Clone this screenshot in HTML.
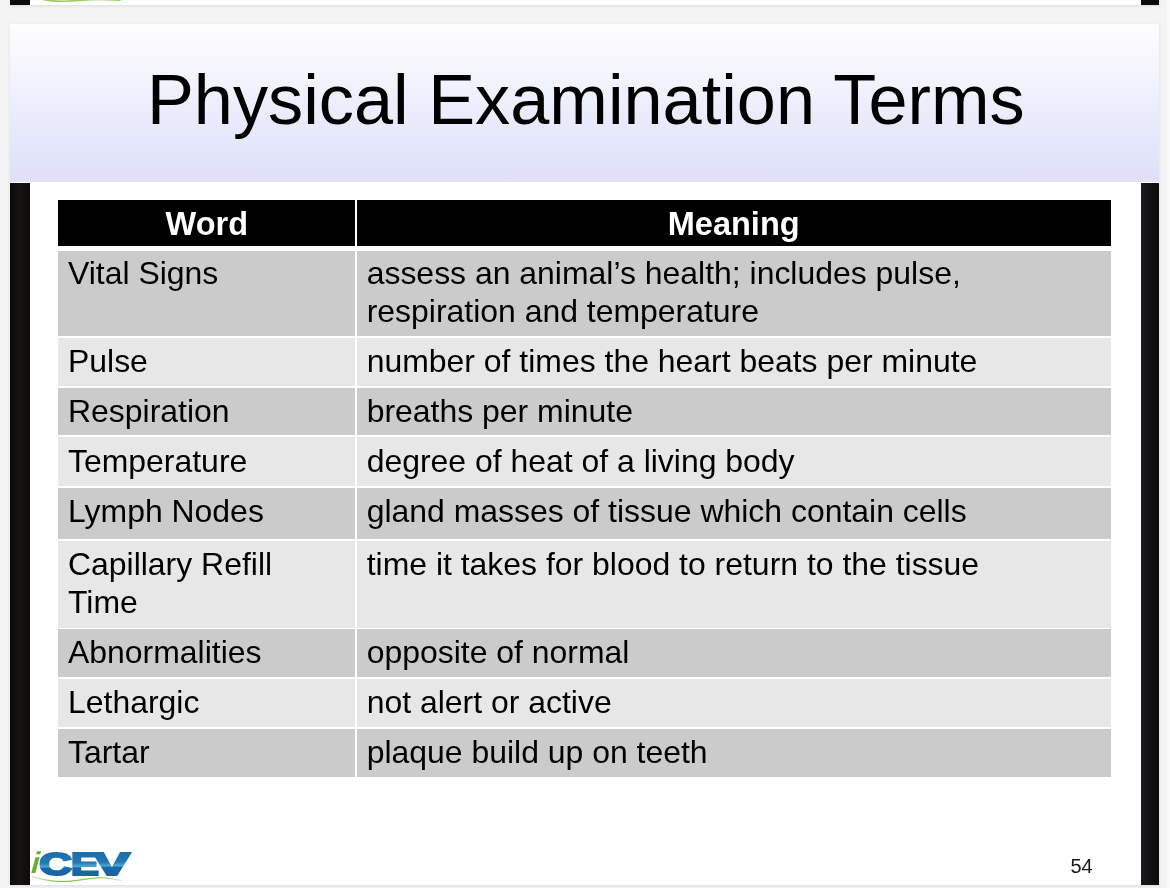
<!DOCTYPE html>
<html lang="en">
<head>
<meta charset="utf-8">
<title>Physical Examination Terms</title>
<style>
  html, body { margin: 0; padding: 0; }
  body {
    width: 1170px; height: 888px; overflow: hidden; position: relative;
    background: #f4f4f4;
    font-family: "Liberation Sans", sans-serif;
    color: #000;
  }
  .track { position: absolute; left: 1166.7px; top: 0; width: 4px; height: 888px; background: #fafafa; }
  .prev {
    position: absolute; left: 10px; top: -20px; width: 1149px; height: 25px;
    background: #fff; box-shadow: 0 1px 3px rgba(0,0,0,0.10);
  }
  .prev .bl { position: absolute; left: 0; top: 0; width: 19.6px; height: 24.6px; background: #0d0b09; }
  .prev .br { position: absolute; right: 0; top: 0; width: 17.7px; height: 24.6px; background: #0b0b0d; }
  .sw { position: absolute; left: 40px; top: 0; width: 90px; height: 5px; filter: blur(0.5px); }
  .slide {
    position: absolute; left: 10px; top: 24px; width: 1149px; height: 860.6px;
    background: #fff; box-shadow: 0 1px 3px rgba(0,0,0,0.10);
  }
  .bar-l { position: absolute; left: 10px; top: 183px; width: 19.8px; height: 701.6px; background: linear-gradient(to right, #0b0a09 0%, #171412 45%, #0e0c0b 100%); }
  .bar-r { position: absolute; left: 1141.4px; top: 183px; width: 17.5px; height: 701.6px; background: linear-gradient(to right, #1a1a1e 0%, #121215 50%, #0a0a0c 100%); }
  .band {
    position: absolute; left: 10px; top: 24px; width: 1149px; height: 158px;
    background: linear-gradient(to bottom, #fdfdfe 0%, #f8f8fe 18%, #eef0fd 45%, #e6e8fb 70%, #dfe0f9 100%);
  }
  h1 {
    position: absolute; left: 11.3px; top: 59.5px; width: 1149px; margin: 0;
    text-align: center; font-weight: normal; font-size: 70.3px; line-height: 80px;
    white-space: nowrap;
  }
  .grid { position: absolute; left: 0; top: 0; font-size: 31.95px; line-height: 38.0px; }
  .hdr { position: absolute; left: 58.3px; top: 200px; width: 1052.5px; height: 45.9px; background: #000; color: #fff;
    font-weight: bold; font-size: 32.5px; }
  .hdr .h1c { position: absolute; left: 0; top: 0; width: 297px; height: 100%; text-align: center; }
  .hdr .h2c { position: absolute; left: 298.3px; top: 0; width: 754.2px; height: 100%; text-align: center; }
  .hdr .dv { position: absolute; left: 297px; top: 0; width: 1.3px; height: 100%; background: #fff; }
  .hdr span { position: relative; top: 4.7px; white-space: nowrap; }
  .row { position: absolute; left: 58.3px; width: 1052.5px; }
  .row .c1 { position: absolute; left: 0; top: 0; width: 296.7px; height: 100%; }
  .row .c2 { position: absolute; left: 298.7px; top: 0; width: 753.8px; height: 100%; }
  .row.o .c1, .row.o .c2 { background: #cbcbcb; }
  .row.e .c1, .row.e .c2 { background: #e7e7e7; }
  .row p { position: absolute; left: 9.7px; margin: 0; white-space: nowrap; }
  .logo { position: absolute; left: 25px; top: 842px; width: 120px; height: 46px; }
  .num { position: absolute; left: 1064.6px; top: 854.4px; width: 34px; text-align: center;
    font-size: 20px; line-height: 24px; color: #1a1a1a; }
</style>
</head>
<body>
  <div class="track"></div>
  <div class="prev"><div class="bl"></div><div class="br"></div></div>
  <svg class="sw" viewBox="0 0 90 5"><path d="M3 -0.6 C 12 1.6, 28 1.6, 42 0.2 S 66 -0.8, 80 0.2" fill="none" stroke="#9ccb63" stroke-width="1.6" stroke-linecap="round"/></svg>

  <div class="slide"></div>
  <div class="bar-l"></div>
  <div class="bar-r"></div>
  <div class="band"></div>
  <h1>Physical Examination Terms</h1>

  <div class="grid">
    <div class="hdr">
      <div class="h1c"><span>Word</span></div>
      <div class="dv"></div>
      <div class="h2c"><span>Meaning</span></div>
    </div>
    <div class="row o" style="top:251.0px;height:84.7px">
      <div class="c1"><p style="top:3.05px">Vital Signs</p></div>
      <div class="c2"><p style="top:3.05px">assess an animal’s health; includes pulse,<br>respiration and temperature</p></div>
    </div>
    <div class="row e" style="top:337.6px;height:48.2px">
      <div class="c1"><p style="top:4.45px">Pulse</p></div>
      <div class="c2"><p style="top:4.45px">number of times the heart beats per minute</p></div>
    </div>
    <div class="row o" style="top:387.7px;height:47.6px">
      <div class="c1"><p style="top:4.35px">Respiration</p></div>
      <div class="c2"><p style="top:4.35px">breaths per minute</p></div>
    </div>
    <div class="row e" style="top:437.1px;height:48.7px">
      <div class="c1"><p style="top:4.95px">Temperature</p></div>
      <div class="c2"><p style="top:4.95px">degree of heat of a living body</p></div>
    </div>
    <div class="row o" style="top:487.5px;height:51.2px">
      <div class="c1"><p style="top:4.55px">Lymph Nodes</p></div>
      <div class="c2"><p style="top:4.55px">gland masses of tissue which contain cells</p></div>
    </div>
    <div class="row e" style="top:540.8px;height:86.8px">
      <div class="c1"><p style="top:4.25px">Capillary Refill<br>Time</p></div>
      <div class="c2"><p style="top:4.25px">time it takes for blood to return to the tissue</p></div>
    </div>
    <div class="row o" style="top:629.3px;height:47.9px">
      <div class="c1"><p style="top:3.75px">Abnormalities</p></div>
      <div class="c2"><p style="top:3.75px">opposite of normal</p></div>
    </div>
    <div class="row e" style="top:678.7px;height:48.5px">
      <div class="c1"><p style="top:4.35px">Lethargic</p></div>
      <div class="c2"><p style="top:4.35px">not alert or active</p></div>
    </div>
    <div class="row o" style="top:728.9px;height:47.8px">
      <div class="c1"><p style="top:4.15px">Tartar</p></div>
      <div class="c2"><p style="top:4.15px">plaque build up on teeth</p></div>
    </div>
  </div>

  <svg class="logo" viewBox="25 842 120 46">
    <defs>
      <linearGradient id="lg" x1="0" y1="0" x2="0.04" y2="1">
        <stop offset="0.17" stop-color="#1c6ba7"/>
        <stop offset="0.48" stop-color="#2279b3"/>
        <stop offset="0.585" stop-color="#4ea9d4"/>
        <stop offset="0.625" stop-color="#186aa8"/>
        <stop offset="0.85" stop-color="#1a63a0"/>
      </linearGradient>
      <linearGradient id="sg" gradientUnits="userSpaceOnUse" x1="32" y1="0" x2="123" y2="0">
        <stop offset="0" stop-color="#86bd4c" stop-opacity="0.35"/>
        <stop offset="0.3" stop-color="#7cb83f" stop-opacity="0.95"/>
        <stop offset="0.75" stop-color="#86bd4c" stop-opacity="0.8"/>
        <stop offset="1" stop-color="#86bd4c" stop-opacity="0.15"/>
      </linearGradient>
    </defs>
    <text transform="translate(30.8 872.8) skewX(-4)" font-family="Liberation Sans, sans-serif" font-style="italic" font-weight="bold" font-size="30" fill="#6bb02c">i</text>
    <text y="874.9" font-family="Liberation Sans, sans-serif" font-weight="bold" font-size="32" fill="url(#lg)" stroke="url(#lg)" stroke-width="2.2"><tspan x="39.2" textLength="32.6" lengthAdjust="spacingAndGlyphs">C</tspan><tspan x="71.0" textLength="27.8" lengthAdjust="spacingAndGlyphs">E</tspan><tspan x="94.0" textLength="35.8" lengthAdjust="spacingAndGlyphs">V</tspan></text>
    <path d="M32 876.3 C 45 881, 60 882.6, 75 880.6 S 97 877, 105 877.8 S 116 879.6, 122 880.8" fill="none" stroke="url(#sg)" stroke-width="1.2"/>
  </svg>
  <div class="num">54</div>
</body>
</html>
